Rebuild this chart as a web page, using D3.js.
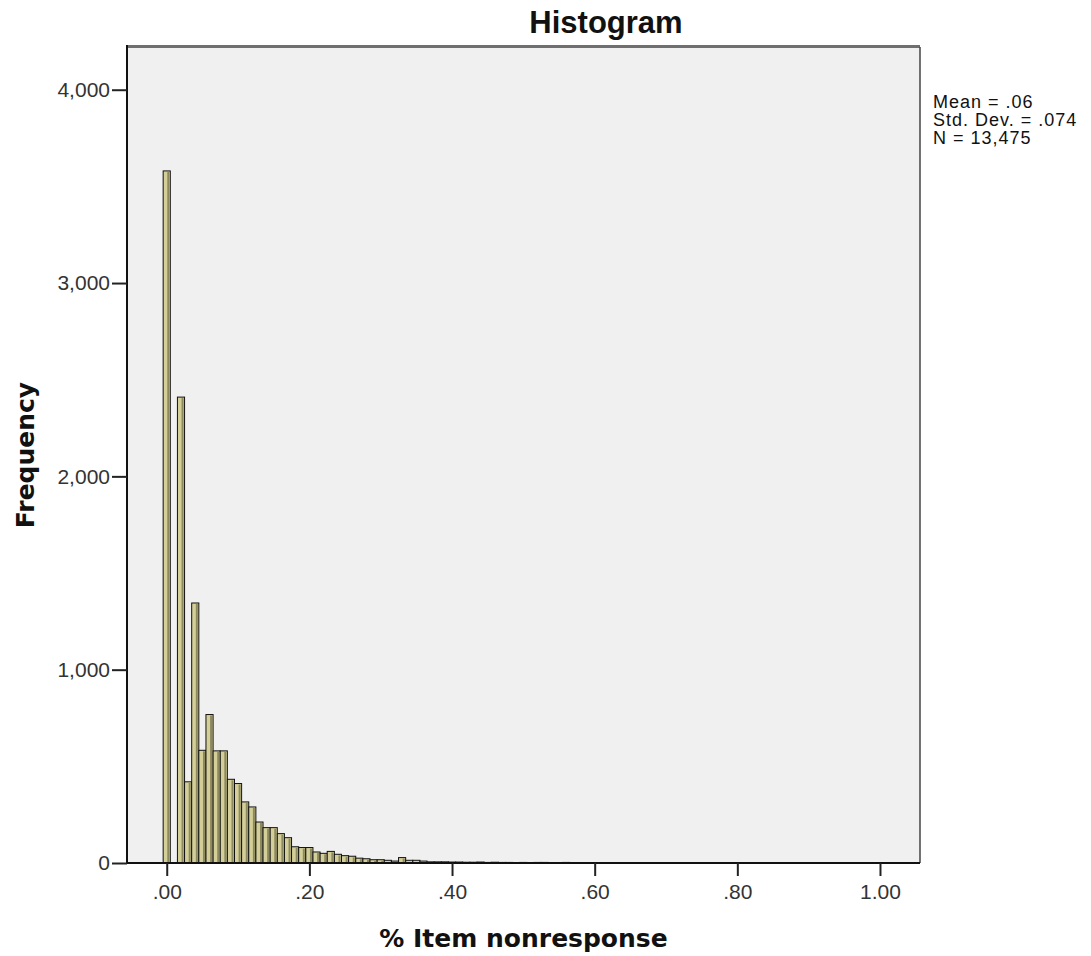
<!DOCTYPE html>
<html>
<head>
<meta charset="utf-8">
<title>Histogram</title>
<script src="https://d3js.org/d3.v7.min.js"></script>
<style>
  body { margin: 0; background: #fff; }
  .tick text { font-family: "Liberation Sans", Arial, sans-serif; font-size: 21px; fill: #333; }
</style>
</head>
<body>
<svg width="1091" height="956"></svg>
<script>
// bin centres (width .01) and frequencies
var binWidth = 0.01;
var binStarts = d3.range(0, 85).map(function(i){ return +(i * 0.01).toFixed(2); });
var counts = [
  3580, 0, 2410, 420, 1345, 583, 768, 580, 580, 433,
  411, 316, 290, 212, 183, 183, 152, 131, 84, 80,
  80, 57, 50, 60, 45, 38, 35, 25, 22, 17,
  17, 14, 10, 28, 14, 14, 10, 6, 6, 6,
  5, 5, 4, 4, 5, 3, 4, 3, 3, 2,
  3, 2, 3, 3, 2, 2, 3, 2, 2, 2,
  2, 1, 0, 2, 2, 2, 0, 0, 2, 1,
  2, 1, 2, 2, 2, 1, 0, 0, 0, 1,
  1, 0, 1, 1, 1
];
var yTicks = [0, 1000, 2000, 3000, 4000];
var xTicks = [0, 0.2, 0.4, 0.6, 0.8, 1.0];
var statsLines = ["Mean = .06", "Std. Dev. = .074", "N = 13,475"];

var svg = d3.select("svg");
var pLeft = 127, pRight = 920, pTop = 47, pBottom = 863;

var x = d3.scaleLinear().domain([-0.0557, 1.0561]).range([pLeft, pRight]);
var y = d3.scaleLinear().domain([0, 4221]).range([pBottom, pTop]);

// plot background
svg.append("rect")
  .attr("x", pLeft).attr("y", pTop)
  .attr("width", pRight - pLeft).attr("height", pBottom - pTop)
  .attr("fill", "#f0f0f0");

var bins = binStarts.map(function(c, i){ return {c: c, n: counts[i]}; })
  .filter(function(d){ return d.n > 0; });

var g = svg.append("g");
g.selectAll("rect.bar")
  .data(bins)
  .enter()
  .append("rect")
  .attr("class", "bar")
  .attr("x", function(d){ return x(d.c - binWidth / 2); })
  .attr("y", function(d){ return y(d.n); })
  .attr("width", function(d){ return x(d.c + binWidth / 2) - x(d.c - binWidth / 2); })
  .attr("height", function(d){ return y(0) - y(d.n); })
  .attr("fill", "#d4cf98")
  .attr("stroke", "#111")
  .attr("stroke-width", 1);

// darker shade on the right side of each bar
g.selectAll("rect.shade")
  .data(bins.filter(function(d){ return y(0) - y(d.n) > 3; }))
  .enter()
  .append("rect")
  .attr("class", "shade")
  .attr("x", function(d){ return x(d.c + binWidth / 2) - 3; })
  .attr("y", function(d){ return y(d.n) + 1; })
  .attr("width", 2)
  .attr("height", function(d){ return y(0) - y(d.n) - 1; })
  .attr("fill", "#8d895f");

// frame
svg.append("line").attr("x1", pLeft).attr("x2", pRight).attr("y1", pTop - 0.5).attr("y2", pTop - 0.5)
  .attr("stroke", "#6f6f6f").attr("stroke-width", 3);
svg.append("line").attr("x1", pRight).attr("x2", pRight).attr("y1", pTop).attr("y2", pBottom)
  .attr("stroke", "#444").attr("stroke-width", 1.5);

// axes
var yAxis = d3.axisLeft(y).tickValues(yTicks).tickSize(15).tickPadding(2)
  .tickFormat(d3.format(","));
var gy = svg.append("g").attr("transform", "translate(" + pLeft + ",0)").call(yAxis);
gy.select(".domain").attr("stroke", "#111").attr("stroke-width", 2).attr("d", "M0," + (pTop - 2) + "V" + pBottom);
gy.selectAll(".tick line").attr("stroke", "#222").attr("stroke-width", 2);

var xAxis = d3.axisBottom(x).tickValues(xTicks).tickSize(13).tickPadding(8)
  .tickFormat(function(d){ return d3.format(".2f")(d).replace(/^0\./, "."); });
var gx = svg.append("g").attr("transform", "translate(0," + pBottom + ")").call(xAxis);
gx.select(".domain").attr("stroke", "#111").attr("stroke-width", 2).attr("d", "M" + pLeft + ",0H" + pRight);
gx.selectAll(".tick line").attr("stroke", "#222").attr("stroke-width", 2);

// title and axis labels
svg.append("text")
  .attr("x", 606).attr("y", 33)
  .attr("text-anchor", "middle")
  .style("font-family", "'Liberation Sans', Arial, sans-serif")
  .style("font-weight", "bold").style("font-size", "31px")
  .attr("fill", "#111")
  .text("Histogram");

svg.append("text")
  .attr("x", (pLeft + pRight) / 2).attr("y", 947)
  .attr("text-anchor", "middle")
  .style("font-family", "'DejaVu Sans', Verdana, sans-serif")
  .style("font-weight", "bold").style("font-size", "25px")
  .attr("fill", "#111")
  .text("% Item nonresponse");

svg.append("text")
  .attr("transform", "translate(34," + 455 + ") rotate(-90)")
  .attr("text-anchor", "middle")
  .style("font-family", "'DejaVu Sans', Verdana, sans-serif")
  .style("font-weight", "bold").style("font-size", "25px")
  .attr("fill", "#111")
  .text("Frequency");

// stats box
svg.append("g").selectAll("text")
  .data(statsLines)
  .enter()
  .append("text")
  .attr("x", 933)
  .attr("y", function(d, i){ return 108 + i * 18; })
  .style("font-family", "'Liberation Sans', Arial, sans-serif")
  .style("font-size", "18px")
  .style("letter-spacing", "1px")
  .attr("fill", "#111")
  .text(function(d){ return d; });
</script>
</body>
</html>
